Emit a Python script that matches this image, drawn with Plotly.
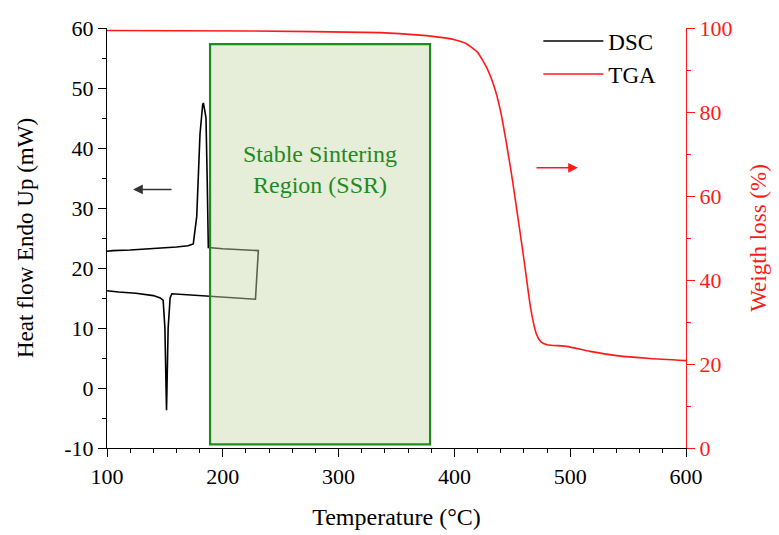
import plotly.graph_objects as go

# DSC loop (Temperature °C, Heat flow mW)
dsc_temp = [100, 105, 120, 140, 160, 170, 174.5, 177.5, 180.3, 182.6, 183.2, 184.2, 185.5, 186.6, 187.5,
            200, 215, 230.7, 228.2, 210, 189, 170, 156, 154.5, 152.8, 151.8, 151.4, 151.0, 150.0,
            148.5, 146, 140, 125, 110, 100]
dsc_flow = [22.8, 22.9, 23.0, 23.2, 23.5, 23.7, 24.0, 28.6, 42.3, 47.2, 47.5, 46.5, 45.0, 34.0, 23.4,
            23.2, 23.0, 22.9, 14.8, 15.0, 15.3, 15.5, 15.7, 15.0, 10.0, 0.0, -3.7, 0.0, 10.0,
            14.6, 15.0, 15.4, 15.8, 16.0, 16.2]

# TGA (Temperature °C, Weight %)
tga_temp = [100, 223.5, 335.8, 370, 390, 400, 410, 420, 428, 435, 440, 450, 460, 466, 471, 475,
            480, 497, 517.1, 540.1, 569, 600]
tga_wt = [99.4, 99.3, 98.9, 98.3, 97.7, 97.2, 96.3, 94.2, 90.5, 85.5, 80.0, 64.0, 45.0, 33.0, 27.0, 25.2,
          24.6, 24.2, 23.0, 22.0, 21.3, 20.8]

# Tick labels
y_tickvals = [-10, 0, 10, 20, 30, 40, 50, 60]
y_ticktext = ["-10", "0", "10", "20", "30", "40", "50", "60"]

ssr_range = [189, 379]
ssr_flow = [-9.4, 57.3]

FONT = "Liberation Serif, Times New Roman, serif"
GREEN = "#1f8a1f"
RED = "#ff1a1a"

fig = go.Figure()
fig.add_trace(go.Scatter(x=dsc_temp, y=dsc_flow, mode="lines", name="DSC",
                         line=dict(color="black", width=1.6)))
fig.add_trace(go.Scatter(x=tga_temp, y=tga_wt, mode="lines", name="TGA", yaxis="y2",
                         line=dict(color=RED, width=1.6, shape="spline", smoothing=0.5)))

# Stable sintering region
fig.add_shape(type="rect", xref="x", yref="y", x0=ssr_range[0], x1=ssr_range[1],
              y0=ssr_flow[0], y1=ssr_flow[1], fillcolor="rgb(200,215,170)", opacity=0.45,
              line=dict(width=0), layer="above")
fig.add_shape(type="rect", xref="x", yref="y", x0=ssr_range[0], x1=ssr_range[1],
              y0=ssr_flow[0], y1=ssr_flow[1], fillcolor="rgba(0,0,0,0)",
              line=dict(color=GREEN, width=2.2), layer="above")

fig.add_annotation(x=(ssr_range[0] + ssr_range[1]) / 2, y=36.5, xref="x", yref="y",
                   text="Stable Sintering<br>Region (SSR)", showarrow=False,
                   font=dict(family=FONT, size=24, color=GREEN))

# Arrows
fig.add_annotation(x=122.5, y=33.1, ax=157, ay=33.1, xref="x", yref="y", axref="x", ayref="y",
                   text="", showarrow=True, arrowhead=2, arrowsize=1.3, arrowwidth=1.5,
                   arrowcolor="#333333")
fig.add_annotation(x=506.7, y=66.7, ax=469.6, ay=66.7, xref="x", yref="y2", axref="x", ayref="y2",
                   text="", showarrow=True, arrowhead=2, arrowsize=1.3, arrowwidth=1.5,
                   arrowcolor=RED)

fig.update_layout(
    width=779, height=535,
    margin=dict(l=99, r=101, t=14, b=95),
    paper_bgcolor="white", plot_bgcolor="white",
    font=dict(family=FONT, size=22, color="black"),
    showlegend=True,
    legend=dict(x=0.745, y=1.02, xanchor="left", yanchor="top", bgcolor="rgba(0,0,0,0)",
                font=dict(family=FONT, size=23), itemwidth=60, tracegroupgap=0),
    xaxis=dict(range=[100, 600], dtick=100, tick0=100, showgrid=False, zeroline=False,
               automargin=False,
               showline=True, linecolor="black", linewidth=1.2, ticks="outside", ticklen=8,
               tickcolor="black", minor=dict(dtick=20, ticks="outside", ticklen=4, tickcolor="black"),
               title=dict(text="Temperature (°C)", font=dict(family=FONT, size=24), standoff=20),
               tickfont=dict(family=FONT, size=22)),
    yaxis=dict(range=[-10, 60], tickvals=y_tickvals, ticktext=y_ticktext, showgrid=False,
               zeroline=False, automargin=False,
               showline=True, linecolor="black", linewidth=1.2, ticks="outside", ticklen=8,
               tickcolor="black", minor=dict(dtick=5, ticks="outside", ticklen=4, tickcolor="black"),
               title=dict(text="Heat flow Endo Up (mW)", font=dict(family=FONT, size=23), standoff=24),
               tickfont=dict(family=FONT, size=22)),
    yaxis2=dict(range=[0, 100], dtick=20, overlaying="y", side="right", showgrid=False,
                zeroline=False, automargin=False, showline=True, linecolor=RED, linewidth=1.2,
                ticks="outside", ticklen=8, tickcolor=RED,
                minor=dict(dtick=10, ticks="outside", ticklen=4, tickcolor=RED),
                tickfont=dict(family=FONT, size=22, color=RED),
                title=dict(text="Weigth loss (%)", font=dict(family=FONT, size=23, color=RED),
                           standoff=18)),
)

fig.write_html("out.html")
